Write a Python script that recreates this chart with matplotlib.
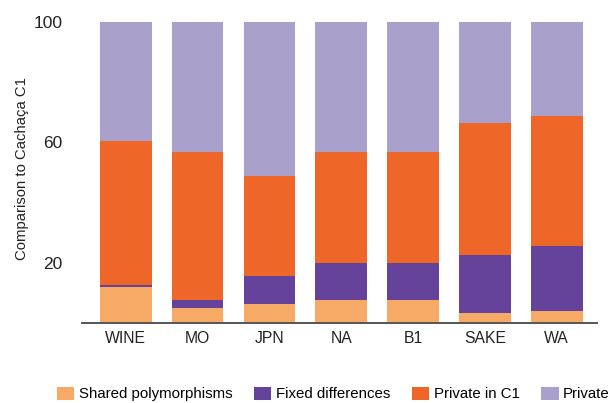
import numpy as np
import matplotlib.pyplot as plt
from matplotlib.patches import Patch

plt.rcParams['font.family'] = ['Liberation Sans', 'DejaVu Sans']

# values (percent of sites, stacked bottom to top)
groups = ['WINE', 'MO', 'JPN', 'NA', 'B1', 'SAKE', 'WA']
shared = [12.0, 5.1, 6.3, 7.6, 7.5, 3.2, 4.1]
fixed = [0.5, 2.5, 9.3, 12.2, 12.3, 19.4, 21.6]
private_c1 = [47.9, 49.3, 33.2, 36.9, 36.9, 43.7, 43.1]
private = [39.6, 43.1, 51.2, 43.3, 43.3, 33.7, 31.2]

series_labels = ['Shared polymorphisms', 'Fixed differences', 'Private in C1', 'Private']
colors = ['#F6AA66', '#66439A', '#EF6629', '#A9A1CC']
yticks = [20, 60, 100]

fig = plt.figure(figsize=(6.14, 4.03), dpi=100)
ax = fig.add_axes([82 / 614, 1 - 323 / 403, (597 - 82) / 614, (323 - 21.7) / 403])

x = np.arange(len(groups))
bottom = np.zeros(len(groups))
for vals, c in zip([shared, fixed, private_c1, private], colors):
    ax.bar(x, vals, width=0.72, bottom=bottom, color=c, edgecolor='none')
    bottom += np.array(vals)

ax.set_xlim(-0.61, 6.56)
ax.set_ylim(0, 100)
ax.set_xticks(x)
ax.set_xticklabels(groups, fontsize=11.3)
ax.set_yticks(yticks)
ax.set_yticklabels([str(t) for t in yticks], fontsize=12.5)
ax.tick_params(axis='both', length=0, colors='#222222')
ax.tick_params(axis='y', pad=14)
ax.tick_params(axis='x', pad=6)

for s in ['top', 'right', 'left']:
    ax.spines[s].set_visible(False)
ax.spines['bottom'].set_color('#555555')
ax.spines['bottom'].set_linewidth(1.4)

fig.text(22 / 614, 1 - 169 / 403, 'Comparison to Cachaça C1', rotation=90,
         ha='center', va='center', fontsize=10.7, color='#222222')

handles = [Patch(facecolor=c, edgecolor='none') for c in colors]
fig.legend(handles, series_labels, loc='center left', bbox_to_anchor=(57 / 614, 1 - 394 / 403),
           ncol=4, frameon=False, fontsize=10.8, handlelength=1.15, handleheight=1.0,
           handletextpad=0.3, columnspacing=1.45, borderpad=0, borderaxespad=0)

fig.savefig('out.png', dpi=100)
